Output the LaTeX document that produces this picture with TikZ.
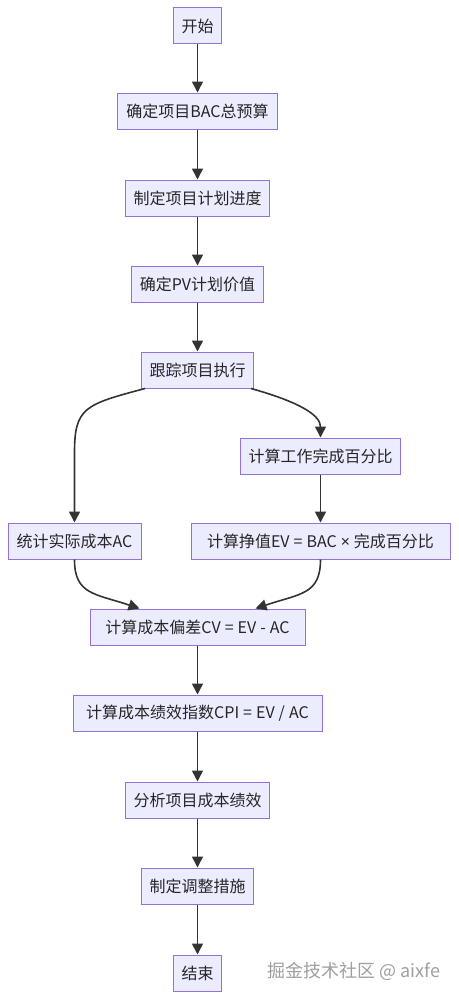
\documentclass[tikz,border=0pt]{standalone}
\usepackage{fontspec}
\setmainfont{Noto Sans CJK SC}
\newfontfamily\latinfont{Noto Sans}
\usetikzlibrary{arrows.meta}
\definecolor{boxfill}{HTML}{ECECFF}
\definecolor{boxline}{HTML}{9370DB}
\definecolor{linegray}{HTML}{333333}
\tikzset{
  stepbox/.style={draw=boxline, fill=boxfill, line width=1pt, minimum height=36pt,
    inner xsep=8pt, font=\fontsize{16}{19}\selectfont, text=black!85},
  flow/.style={draw=linegray, line width=1.6pt, -{Triangle[length=11pt,width=11pt]}}
}
\begin{document}
\begin{tikzpicture}[x=1pt,y=-1pt]
        \useasboundingbox (0,0) rectangle (458,998);
        \node[stepbox] (start) at (197.5,26) {开始};
        \node[stepbox, minimum width=160pt] (bac) at (197.5,111) {确定项目BAC总预算};
        \node[stepbox] (plan) at (197.5,198) {制定项目计划进度};
        \node[stepbox, minimum width=132pt] (pv) at (197.5,284) {确定PV计划价值};
        \node[stepbox] (trk) at (197.5,370) {跟踪项目执行};
        \node[stepbox] (pct) at (320.5,456) {计算工作完成百分比};
        \node[stepbox, minimum width=133pt] (act) at (74.5,541) {统计实际成本AC};
        \node[stepbox, minimum width=259pt] (ev) at (320.5,541) {计算挣值EV\hspace{4pt}=\hspace{4pt}BAC\hspace{4pt}{\latinfont ×}\hspace{4pt}完成百分比};
        \node[stepbox, minimum width=215pt] (cv) at (197.5,627) {计算成本偏差CV\hspace{4pt}=\hspace{4pt}EV\hspace{4pt}-\hspace{4pt}AC};
        \node[stepbox, minimum width=249pt] (cpi) at (197.5,713) {计算成本绩效指数CPI\hspace{4pt}=\hspace{4pt}EV\hspace{4pt}/\hspace{4pt}AC};
        \node[stepbox] (ana) at (197.5,800) {分析项目成本绩效};
        \node[stepbox] (adj) at (197.5,886) {制定调整措施};
        \node[stepbox] (fin) at (197.5,973) {结束};

        \foreach \a/\b in {start/bac,bac/plan,plan/pv,pv/trk,pct/ev,cv/cpi,cpi/ana,ana/adj,adj/fin} {
            \draw[flow] (\a) -- (\b);}

        % split and merge
        \draw[flow] ([xshift=4pt]trk.south west) .. controls +(-60,16) and +(0,-45) .. ([yshift=70pt]act.north) -- (act.north);
        \draw[flow] ([xshift=-3pt]trk.south east) .. controls +(50,14) and +(0,-22) .. (pct.north);
        \draw[flow] (act.south) .. controls +(0,35) and +(-45,-15) .. ([xshift=50pt]cv.north west);
        \draw[flow] (ev.south) .. controls +(0,35) and +(45,-15) .. ([xshift=-50pt]cv.north east);

        \node[text=gray!75, font=\fontsize{18}{21}\selectfont] (mark) at (354,971) {掘金技术社区 @ aixfe};
\end{tikzpicture}
\end{document}
